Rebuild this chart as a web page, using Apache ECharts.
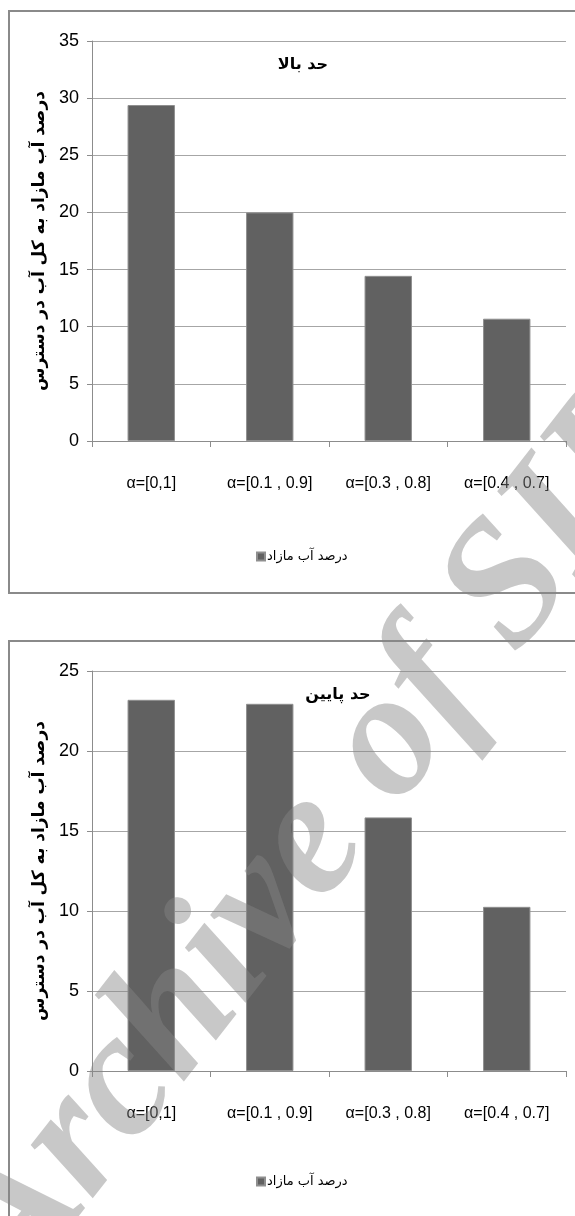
<!DOCTYPE html>
<html>
<head>
<meta charset="utf-8">
<script src="https://cdn.jsdelivr.net/npm/echarts@6/dist/echarts.min.js"></script>
<style>
html,body{margin:0;padding:0;background:#fff;}
#chart{width:575px;height:1216px;}
</style>
</head>
<body>
<div id="chart"></div>
<script>
const categories = ['α=[0,1]', 'α=[0.1 , 0.9]', 'α=[0.3 , 0.8]', 'α=[0.4 , 0.7]'];
const upperValues = [29.4, 20.0, 14.45, 10.7];
const lowerValues = [23.2, 22.95, 15.85, 10.26];
const upperTitle = 'حد بالا';
const lowerTitle = 'حد پایین';
const seriesName = 'درصد آب مازاد';
const yAxisName = 'درصد آب مازاد به کل آب در دسترس';
const watermark = 'Archive of SID';

const numFont = "'Liberation Sans', Arial, sans-serif";
const arFont = "'DejaVu Sans', sans-serif";

function xAxisCfg(gi) {
  return {
    type: 'category', gridIndex: gi, data: categories,
    axisLine: { show: true, lineStyle: { color: '#8c8c8c', width: 1 } },
    axisTick: { show: true, length: 6, lineStyle: { color: '#8c8c8c' } },
    axisLabel: { color: '#000', fontFamily: numFont, fontSize: 16, margin: 35, interval: 0 }
  };
}
function yAxisCfg(gi, max) {
  return {
    type: 'value', gridIndex: gi, min: 0, max: max, interval: 5,
    name: yAxisName, nameLocation: 'middle', nameGap: 43, nameRotate: 90,
    nameTextStyle: { color: '#000', fontFamily: arFont, fontWeight: 'bold', fontSize: 17 },
    axisLine: { show: true, lineStyle: { color: '#8c8c8c', width: 1 } },
    axisTick: { show: true, length: 5, lineStyle: { color: '#8c8c8c' } },
    axisLabel: { color: '#000', fontFamily: numFont, fontSize: 18, margin: 13 },
    splitLine: { show: true, lineStyle: { color: '#a6a6a6', width: 1 } }
  };
}
function barSeries(idx, data) {
  return {
    type: 'bar', name: seriesName, xAxisIndex: idx, yAxisIndex: idx, data: data,
    barCategoryGap: '60%',
    itemStyle: { color: '#616161', borderColor: '#8f8f8f', borderWidth: 1 }
  };
}

const chart = echarts.init(document.getElementById('chart'));
chart.setOption({
  animation: false,
  backgroundColor: '#fff',
  title: [
    { text: upperTitle, left: 298, top: 52, textAlign: 'center',
      textStyle: { fontFamily: arFont, fontWeight: 'bold', fontSize: 16, color: '#000' } },
    { text: lowerTitle, left: 333, top: 682, textAlign: 'center',
      textStyle: { fontFamily: arFont, fontWeight: 'bold', fontSize: 16, color: '#000' } }
  ],
  legend: [
    { data: [seriesName], left: 251, top: 545, itemWidth: 8, itemHeight: 8, itemGap: 4,
      icon: 'rect', textStyle: { fontFamily: arFont, fontSize: 13, color: '#000', padding: [0, 0, 0, -3] } },
    { data: [seriesName], left: 251, top: 1170, itemWidth: 8, itemHeight: 8, itemGap: 4,
      icon: 'rect', textStyle: { fontFamily: arFont, fontSize: 13, color: '#000', padding: [0, 0, 0, -3] } }
  ],
  grid: [
    { left: 92, top: 41, width: 474, height: 400 },
    { left: 92, top: 671, width: 474, height: 400 }
  ],
  xAxis: [xAxisCfg(0), xAxisCfg(1)],
  yAxis: [yAxisCfg(0, 35), yAxisCfg(1, 25)],
  series: [barSeries(0, upperValues), barSeries(1, lowerValues)],
  graphic: [
    { type: 'rect', z: -1, silent: true, shape: { x: 9, y: 11, width: 620, height: 582 },
      style: { fill: 'none', stroke: '#8a8a8a', lineWidth: 2 } },
    { type: 'rect', z: -1, silent: true, shape: { x: 9, y: 641, width: 620, height: 620 },
      style: { fill: 'none', stroke: '#8a8a8a', lineWidth: 2 } },
    { type: 'text', z: 100, silent: true, x: 322, y: 830, rotation: 52 * Math.PI / 180,
      style: { text: watermark, fill: 'rgba(132,132,132,0.45)', fontFamily: "'Liberation Serif', serif",
        fontWeight: 'bold', fontStyle: 'italic', fontSize: 178, align: 'center', verticalAlign: 'middle' } }
  ]
});
</script>
</body>
</html>
